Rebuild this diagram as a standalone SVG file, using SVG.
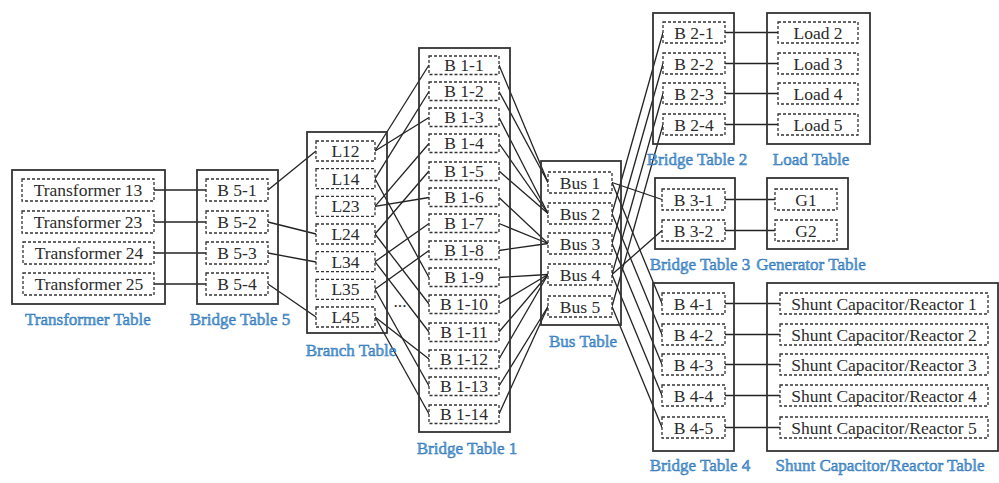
<svg xmlns="http://www.w3.org/2000/svg" width="999" height="483" viewBox="0 0 999 483">
<style>
text{font-family:"Liberation Serif","Times New Roman",serif}
.outer{fill:none;stroke:#333;stroke-width:1.8}
.inner{fill:#fff;stroke:#333;stroke-width:1.3;stroke-dasharray:3 2}
.t{font-size:17.5px;fill:#2b2b2b;text-anchor:middle}
.lbl{font-size:17px;fill:#5aa3de;stroke:#2f74b6;stroke-width:0.5;text-anchor:middle}
.c{fill:none;stroke:#222;stroke-width:1.3}
</style>
<rect width="999" height="483" fill="#fff"/>

<g id="connectors">
<line class="c" x1="154" y1="190" x2="206" y2="190"/>
<line class="c" x1="154" y1="222" x2="206" y2="222"/>
<line class="c" x1="154" y1="253" x2="206" y2="253"/>
<line class="c" x1="154" y1="284" x2="206" y2="284"/>
<line class="c" x1="268" y1="190" x2="316" y2="151"/>
<line class="c" x1="268" y1="222" x2="316" y2="234"/>
<line class="c" x1="268" y1="253" x2="316" y2="262"/>
<line class="c" x1="268" y1="284" x2="316" y2="317"/>
<line class="c" x1="375" y1="151" x2="429" y2="65"/>
<line class="c" x1="375" y1="151" x2="429" y2="117.5"/>
<line class="c" x1="375" y1="178.7" x2="429" y2="91.5"/>
<line class="c" x1="375" y1="178.7" x2="429" y2="277.5"/>
<line class="c" x1="375" y1="206.3" x2="429" y2="143.5"/>
<line class="c" x1="375" y1="206.3" x2="429" y2="197.5"/>
<line class="c" x1="375" y1="234" x2="429" y2="171"/>
<line class="c" x1="375" y1="234" x2="429" y2="304"/>
<line class="c" x1="375" y1="261.7" x2="429" y2="223.5"/>
<line class="c" x1="375" y1="261.7" x2="429" y2="332"/>
<line class="c" x1="375" y1="289.3" x2="429" y2="250.5"/>
<line class="c" x1="375" y1="289.3" x2="429" y2="386"/>
<line class="c" x1="375" y1="317" x2="429" y2="359"/>
<line class="c" x1="375" y1="317" x2="429" y2="414"/>
<line class="c" x1="499" y1="65" x2="548" y2="182.5"/>
<line class="c" x1="499" y1="91.5" x2="548" y2="182.5"/>
<line class="c" x1="499" y1="117.5" x2="548" y2="213.5"/>
<line class="c" x1="499" y1="143.5" x2="548" y2="213.5"/>
<line class="c" x1="499" y1="171" x2="548" y2="213.5"/>
<line class="c" x1="499" y1="197.5" x2="548" y2="243.5"/>
<line class="c" x1="499" y1="223.5" x2="548" y2="243.5"/>
<line class="c" x1="499" y1="250.5" x2="548" y2="243.5"/>
<line class="c" x1="499" y1="277.5" x2="548" y2="274.5"/>
<line class="c" x1="499" y1="304" x2="548" y2="274.5"/>
<line class="c" x1="499" y1="332" x2="548" y2="274.5"/>
<line class="c" x1="499" y1="359" x2="548" y2="274.5"/>
<line class="c" x1="499" y1="386" x2="548" y2="306.5"/>
<line class="c" x1="499" y1="414" x2="548" y2="306.5"/>
<line class="c" x1="612" y1="213.5" x2="663" y2="32.5"/>
<line class="c" x1="612" y1="243.5" x2="663" y2="63.5"/>
<line class="c" x1="612" y1="274.5" x2="663" y2="93.5"/>
<line class="c" x1="612" y1="306.5" x2="663" y2="124.5"/>
<line class="c" x1="612" y1="182.5" x2="662" y2="199.5"/>
<line class="c" x1="612" y1="274.5" x2="662" y2="230.5"/>
<line class="c" x1="612" y1="182.5" x2="662" y2="303.5"/>
<line class="c" x1="612" y1="213.5" x2="662" y2="334.5"/>
<line class="c" x1="612" y1="243.5" x2="662" y2="364.5"/>
<line class="c" x1="612" y1="274.5" x2="662" y2="395.5"/>
<line class="c" x1="612" y1="306.5" x2="662" y2="427.5"/>
<line class="c" x1="725" y1="32.5" x2="778" y2="32.5"/>
<line class="c" x1="725" y1="63.5" x2="778" y2="63.5"/>
<line class="c" x1="725" y1="93.5" x2="778" y2="93.5"/>
<line class="c" x1="725" y1="124.5" x2="778" y2="124.5"/>
<line class="c" x1="725" y1="199.5" x2="775" y2="199.5"/>
<line class="c" x1="725" y1="230.5" x2="775" y2="230.5"/>
<line class="c" x1="725" y1="303.5" x2="780" y2="303.5"/>
<line class="c" x1="725" y1="334.5" x2="780" y2="334.5"/>
<line class="c" x1="725" y1="364.5" x2="780" y2="364.5"/>
<line class="c" x1="725" y1="395.5" x2="780" y2="395.5"/>
<line class="c" x1="725" y1="427.5" x2="780" y2="427.5"/>
</g>

<g id="transformer-table">
<rect class="outer" x="12" y="170" width="153" height="134"/>
<rect class="inner" x="22" y="179" width="132" height="22"/><text class="t" x="88" y="196">Transformer 13</text>
<rect class="inner" x="22" y="211" width="132" height="22"/><text class="t" x="88" y="228">Transformer 23</text>
<rect class="inner" x="23" y="242" width="131" height="22"/><text class="t" x="89" y="259">Transformer 24</text>
<rect class="inner" x="23" y="273" width="131" height="22"/><text class="t" x="89" y="290">Transformer 25</text>
<text class="lbl" x="88" y="325">Transformer Table</text>
</g>

<g id="bridge-table-5">
<rect class="outer" x="197" y="170" width="81" height="134"/>
<rect class="inner" x="206" y="179" width="62" height="22"/><text class="t" x="237" y="196">B 5-1</text>
<rect class="inner" x="206" y="211" width="62" height="22"/><text class="t" x="237" y="228">B 5-2</text>
<rect class="inner" x="206" y="242" width="62" height="22"/><text class="t" x="237" y="259">B 5-3</text>
<rect class="inner" x="206" y="273" width="62" height="22"/><text class="t" x="237" y="290">B 5-4</text>
<text class="lbl" x="240" y="325">Bridge Table 5</text>
</g>

<g id="branch-table">
<rect class="outer" x="307" y="132" width="80" height="201"/>
<rect class="inner" x="316" y="141" width="59" height="20"/><text class="t" x="345.5" y="157">L12</text>
<rect class="inner" x="316" y="168.7" width="59" height="20"/><text class="t" x="345.5" y="184.7">L14</text>
<rect class="inner" x="316" y="196.3" width="59" height="20"/><text class="t" x="345.5" y="212.3">L23</text>
<rect class="inner" x="316" y="224" width="59" height="20"/><text class="t" x="345.5" y="240">L24</text>
<rect class="inner" x="316" y="251.7" width="59" height="20"/><text class="t" x="345.5" y="267.7">L34</text>
<rect class="inner" x="316" y="279.3" width="59" height="20"/><text class="t" x="345.5" y="295.3">L35</text>
<rect class="inner" x="316" y="307" width="59" height="20"/><text class="t" x="345.5" y="323">L45</text>
<text class="lbl" x="351" y="356">Branch Table</text>
</g>

<g id="ellipsis">
<text class="t" x="400" y="307">...</text>
</g>

<g id="bridge-table-1">
<rect class="outer" x="419" y="48" width="91" height="384"/>
<rect class="inner" x="429" y="56" width="70" height="18.5"/><text class="t" x="464" y="71">B 1-1</text>
<rect class="inner" x="429" y="82" width="70" height="18.5"/><text class="t" x="464" y="97">B 1-2</text>
<rect class="inner" x="429" y="108" width="70" height="18.5"/><text class="t" x="464" y="123">B 1-3</text>
<rect class="inner" x="429" y="134" width="70" height="18.5"/><text class="t" x="464" y="149">B 1-4</text>
<rect class="inner" x="429" y="162" width="70" height="18.5"/><text class="t" x="464" y="177">B 1-5</text>
<rect class="inner" x="429" y="188" width="70" height="18.5"/><text class="t" x="464" y="203">B 1-6</text>
<rect class="inner" x="429" y="214" width="70" height="18.5"/><text class="t" x="464" y="229">B 1-7</text>
<rect class="inner" x="429" y="241" width="70" height="18.5"/><text class="t" x="464" y="256">B 1-8</text>
<rect class="inner" x="429" y="268" width="70" height="18.5"/><text class="t" x="464" y="283">B 1-9</text>
<rect class="inner" x="429" y="295" width="70" height="18.5"/><text class="t" x="464" y="310">B 1-10</text>
<rect class="inner" x="429" y="323" width="70" height="18.5"/><text class="t" x="464" y="338">B 1-11</text>
<rect class="inner" x="429" y="350" width="70" height="18.5"/><text class="t" x="464" y="365">B 1-12</text>
<rect class="inner" x="429" y="377" width="70" height="18.5"/><text class="t" x="464" y="392">B 1-13</text>
<rect class="inner" x="429" y="405" width="70" height="18.5"/><text class="t" x="464" y="420">B 1-14</text>
<text class="lbl" x="467" y="454">Bridge Table 1</text>
</g>

<g id="bus-table">
<rect class="outer" x="541" y="161" width="80" height="164"/>
<rect class="inner" x="548" y="172" width="64" height="21"/><text class="t" x="580" y="188.5">Bus 1</text>
<rect class="inner" x="548" y="203" width="64" height="21"/><text class="t" x="580" y="219.5">Bus 2</text>
<rect class="inner" x="548" y="233" width="64" height="21"/><text class="t" x="580" y="249.5">Bus 3</text>
<rect class="inner" x="548" y="264" width="64" height="21"/><text class="t" x="580" y="280.5">Bus 4</text>
<rect class="inner" x="548" y="296" width="64" height="21"/><text class="t" x="580" y="312.5">Bus 5</text>
<text class="lbl" x="583" y="347">Bus Table</text>
</g>

<g id="bridge-table-2">
<rect class="outer" x="653" y="13" width="81" height="131"/>
<rect class="inner" x="663" y="22" width="62" height="21"/><text class="t" x="694" y="38.5">B 2-1</text>
<rect class="inner" x="663" y="53" width="62" height="21"/><text class="t" x="694" y="69.5">B 2-2</text>
<rect class="inner" x="663" y="83" width="62" height="21"/><text class="t" x="694" y="99.5">B 2-3</text>
<rect class="inner" x="663" y="114" width="62" height="21"/><text class="t" x="694" y="130.5">B 2-4</text>
<text class="lbl" x="697" y="165">Bridge Table 2</text>
</g>

<g id="load-table">
<rect class="outer" x="767" y="13" width="103" height="131"/>
<rect class="inner" x="778" y="22" width="80" height="21"/><text class="t" x="818" y="38.5">Load 2</text>
<rect class="inner" x="778" y="53" width="80" height="21"/><text class="t" x="818" y="69.5">Load 3</text>
<rect class="inner" x="778" y="83" width="80" height="21"/><text class="t" x="818" y="99.5">Load 4</text>
<rect class="inner" x="778" y="114" width="80" height="21"/><text class="t" x="818" y="130.5">Load 5</text>
<text class="lbl" x="811" y="165">Load Table</text>
</g>

<g id="bridge-table-3">
<rect class="outer" x="655" y="178" width="80" height="71"/>
<rect class="inner" x="662" y="189" width="63" height="21"/><text class="t" x="693.5" y="205.5">B 3-1</text>
<rect class="inner" x="662" y="220" width="63" height="21"/><text class="t" x="693.5" y="236.5">B 3-2</text>
<text class="lbl" x="700" y="270">Bridge Table 3</text>
</g>

<g id="generator-table">
<rect class="outer" x="767" y="178" width="81" height="71"/>
<rect class="inner" x="775" y="189" width="62" height="21"/><text class="t" x="806" y="205.5">G1</text>
<rect class="inner" x="775" y="220" width="62" height="21"/><text class="t" x="806" y="236.5">G2</text>
<text class="lbl" x="811" y="270">Generator Table</text>
</g>

<g id="bridge-table-4">
<rect class="outer" x="653" y="283" width="81" height="168"/>
<rect class="inner" x="662" y="293" width="63" height="21"/><text class="t" x="693.5" y="309.5">B 4-1</text>
<rect class="inner" x="662" y="324" width="63" height="21"/><text class="t" x="693.5" y="340.5">B 4-2</text>
<rect class="inner" x="662" y="354" width="63" height="21"/><text class="t" x="693.5" y="370.5">B 4-3</text>
<rect class="inner" x="662" y="385" width="63" height="21"/><text class="t" x="693.5" y="401.5">B 4-4</text>
<rect class="inner" x="662" y="417" width="63" height="21"/><text class="t" x="693.5" y="433.5">B 4-5</text>
<text class="lbl" x="700" y="471">Bridge Table 4</text>
</g>

<g id="shunt-table">
<rect class="outer" x="767" y="283" width="231" height="168"/>
<rect class="inner" x="780" y="293" width="208" height="21"/><text class="t" x="884" y="309.5">Shunt Capacitor/Reactor 1</text>
<rect class="inner" x="780" y="324" width="208" height="21"/><text class="t" x="884" y="340.5">Shunt Capacitor/Reactor 2</text>
<rect class="inner" x="780" y="354" width="208" height="21"/><text class="t" x="884" y="370.5">Shunt Capacitor/Reactor 3</text>
<rect class="inner" x="780" y="385" width="208" height="21"/><text class="t" x="884" y="401.5">Shunt Capacitor/Reactor 4</text>
<rect class="inner" x="780" y="417" width="208" height="21"/><text class="t" x="884" y="433.5">Shunt Capacitor/Reactor 5</text>
<text class="lbl" x="880" y="471">Shunt Capacitor/Reactor Table</text>
</g>
</svg>
